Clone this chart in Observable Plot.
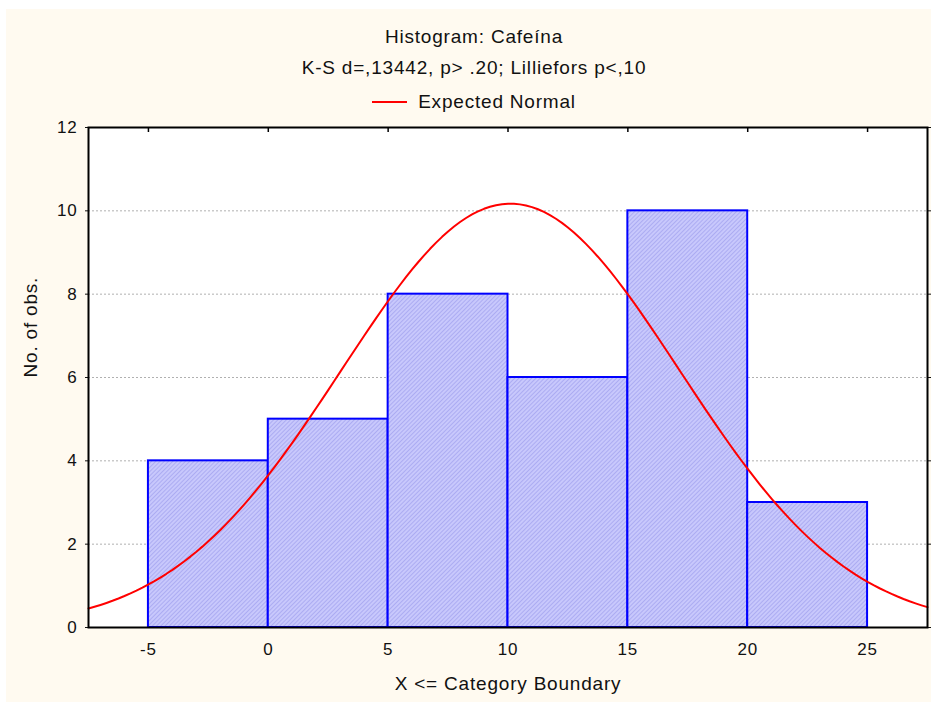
<!DOCTYPE html>
<html><head><meta charset="utf-8">
<script src="https://cdn.jsdelivr.net/npm/d3@7"></script>
<script src="https://cdn.jsdelivr.net/npm/@observablehq/plot@0.6"></script>
<style>
html,body{margin:0;padding:0;background:#fff;overflow:hidden;}
#wrap{position:absolute;left:6px;top:9px;width:925px;height:693px;background:#fffaf0;font-family:"Liberation Sans",Arial,sans-serif;color:#111;overflow:hidden;}
.t{position:absolute;left:0;width:936px;text-align:center;font-size:19px;letter-spacing:0.8px;line-height:22px;white-space:nowrap;}
#chart{position:absolute;left:0;top:105px;}
.leg{display:inline-flex;align-items:center;}
</style></head>
<body>
<div id="wrap">
  <div class="t" style="top:17px">Histogram: Cafeína</div>
  <div class="t" style="top:48px">K-S d=,13442, p&gt; .20; Lilliefors p&lt;,10</div>
  <div class="t" style="top:78px"><span class="leg"><svg width="35" height="4"><line x1="0" x2="35" y1="2" y2="2" stroke="#ff0000" stroke-width="2"/></svg><span style="margin-left:11px">Expected Normal</span></span></div>
  <div id="chart"></div>
</div>
<script>
// Histogram bins (category boundaries) and counts
const binStart = [-5, 0, 5, 10, 15, 20];
const binEnd   = [0, 5, 10, 15, 20, 25];
const counts   = [4, 5, 8, 6, 10, 3];
const xTicks = [-5, 0, 5, 10, 15, 20, 25];
const yTicks = [0, 2, 4, 6, 8, 10, 12];
const gridVals = [2, 4, 6, 8, 10];
// Expected normal parameters (fitted to the sample)
const nObs = 36;
const binWidth = 5;
const normMean = 10.1;
const normSd = 7.06;
const xDomain = [-7.5, 27.5];

const bins = binStart.map((s, i) => ({x1: s, x2: binEnd[i], count: counts[i]}));
const curve = d3.range(xDomain[0], xDomain[1] + 0.001, 0.25).map(x => ({
  x,
  y: nObs * binWidth * Math.exp(-0.5 * ((x - normMean) / normSd) ** 2) / (normSd * Math.sqrt(2 * Math.PI))
}));

const font = '"Liberation Sans", Arial, sans-serif';
const chart = Plot.plot({
  width: 925, height: 588,
  marginLeft: 82, marginRight: 4, marginTop: 13, marginBottom: 75,
  x: {domain: xDomain},
  y: {domain: [0, 12]},
  style: {background: "transparent", fontFamily: font, fontSize: "17px", color: "#111", letterSpacing: "0.8px"},
  marks: [
    Plot.frame({fill: "white"}),
    Plot.gridY(gridVals, {stroke: "#b0b0b0", strokeOpacity: 1, strokeDasharray: "2,2"}),
    Plot.rectY(bins, {x1: "x1", x2: "x2", y: "count", fill: "url(#hatch)", stroke: "#0000ff", strokeWidth: 2}),
    Plot.line(curve, {x: "x", y: "y", stroke: "#ff0000", strokeWidth: 2}),
    Plot.axisX(xTicks, {anchor: "bottom", tickSize: 0, tickPadding: 15, label: null, fontSize: 17, tickFormat: d => String(d)}),
    Plot.axisY(yTicks, {anchor: "left", tickSize: 3, tickPadding: 8, label: null, fontSize: 17, tickFormat: d => String(d)}),
    Plot.axisY(yTicks, {anchor: "right", tickSize: 4, tickFormat: () => "", label: null}),
    Plot.ruleX(xTicks, {insetBottom: 495, stroke: "black", strokeWidth: 1.5}),
    Plot.frame({stroke: "black", strokeWidth: 2}),
    Plot.text(["No. of obs."], {text: d => d, frameAnchor: "left", rotate: -90, dx: -58, fontSize: 19}),
    Plot.text(["X <= Category Boundary"], {text: d => d, frameAnchor: "bottom", dy: 62, fontSize: 19})
  ]
});
const ns = "http://www.w3.org/2000/svg";
const defs = document.createElementNS(ns, "defs");
defs.innerHTML = '<pattern id="hatch" width="3" height="3" patternUnits="userSpaceOnUse" patternTransform="rotate(45)"><rect width="3" height="3" fill="#c8c8fc"/><line x1="0.5" y1="0" x2="0.5" y2="3" stroke="#acacf2" stroke-width="1"/></pattern>';
chart.insertBefore(defs, chart.firstChild);
document.getElementById("chart").appendChild(chart);
</script>
</body></html>
